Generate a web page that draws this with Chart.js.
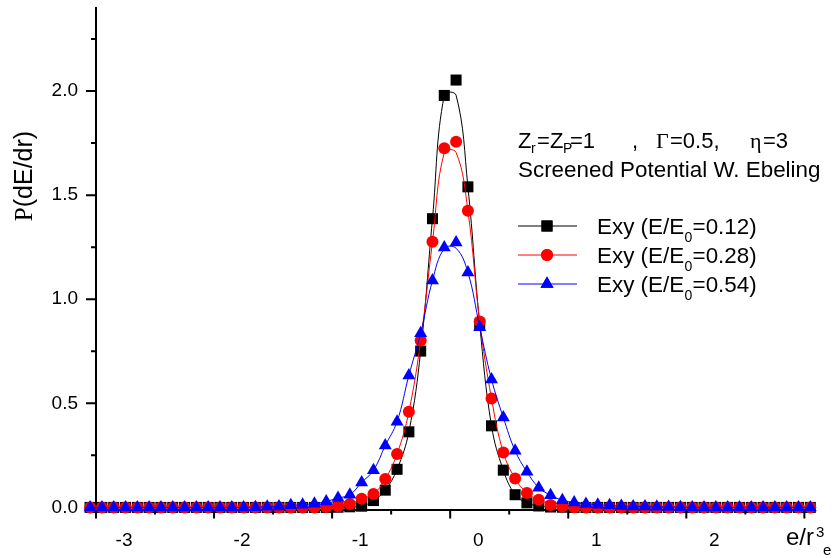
<!DOCTYPE html>
<html><head><meta charset="utf-8">
<script src="https://cdn.jsdelivr.net/npm/chart.js@4"></script>
<style>html,body{margin:0;padding:0;background:#fff}canvas{display:block}</style>
</head><body>
<canvas id="c" width="835" height="558"></canvas>
<script>
// ---- data ----
const xValues = [-3.05,-2.95,-2.85,-2.75,-2.65,-2.55,-2.45,-2.35,-2.25,-2.15,-2.05,-1.95,-1.85,-1.75,-1.65,-1.55,-1.45,-1.35,-1.25,-1.15,-1.05,
  -0.95,-0.85,-0.75,-0.65,-0.55,-0.45,-0.35,-0.25,-0.15,-0.05,
  0.05,0.15,0.25,0.35,0.45,0.55,0.65,0.75,0.85,0.95,
  1.05,1.15,1.25,1.35,1.45,1.55,1.65,1.75,1.85,1.95,2.05,2.15,2.25,2.35,2.45,2.55,2.65,2.75,2.85,2.95,3.05];

const blackPoints = [0,0,0,0,0,0,0,0,0,0,0,0,0,0,0,0,0,0,0,0,0,
  0.001,0.003,0.006,0.033,0.083,0.183,0.363,0.751,1.387,1.979,
  2.053,1.540,0.880,0.392,0.179,0.061,0.022,0.007,0.002,0.001,
  0,0,0,0,0,0,0,0,0,0,0,0,0,0,0,0,0,0,0,0,0];
const redPoints = [0,0,0,0,0,0,0,0,0,0,0,0,0,0,0,0,0,0,0,0,0.002,
  0.006,0.016,0.042,0.064,0.137,0.257,0.459,0.802,1.276,1.725,
  1.756,1.425,0.893,0.523,0.264,0.139,0.069,0.037,0.012,0.004,
  0.001,0,0,0,0,0,0,0,0,0,0,0,0,0,0,0,0,0,0,0,0];
const bluePoints = [0,0,0,0,0,0,0,0,0,0,0,0,0,0,0.001,0.003,0.005,0.010,0.013,0.018,0.029,
  0.045,0.061,0.120,0.178,0.297,0.412,0.634,0.837,1.090,1.249,
  1.273,1.129,0.866,0.615,0.432,0.272,0.171,0.095,0.059,0.035,
  0.024,0.017,0.013,0.010,0.007,0.005,0.004,0.003,0.002,0.001,0,0,0,0,0,0,0,0,0,0,0];

// smooth curves drawn through the points (peak region)
const blackCurve = [0,0,0,0,0,0,0,0,0,0,0,0,0,0,0,0,0,0,0,0,0,
  0.001,0.003,0.006,0.033,0.083,0.183,0.363,0.751,1.387,1.980,
  1.980,1.540,0.880,0.392,0.179,0.061,0.022,0.007,0.002,0.001,
  0,0,0,0,0,0,0,0,0,0,0,0,0,0,0,0,0,0,0,0,0];
const redCurve = [0,0,0,0,0,0,0,0,0,0,0,0,0,0,0,0,0,0,0,0,0.002,
  0.006,0.016,0.042,0.064,0.137,0.257,0.459,0.802,1.276,1.705,
  1.705,1.425,0.893,0.523,0.264,0.139,0.069,0.037,0.012,0.004,
  0.001,0,0,0,0,0,0,0,0,0,0,0,0,0,0,0,0,0,0,0,0];
const blueCurve = [0,0,0,0,0,0,0,0,0,0,0,0,0,0,0.001,0.003,0.005,0.010,0.013,0.018,0.029,
  0.045,0.061,0.120,0.178,0.297,0.412,0.634,0.837,1.090,1.243,
  1.245,1.129,0.866,0.615,0.432,0.272,0.171,0.095,0.059,0.035,
  0.024,0.017,0.013,0.010,0.007,0.005,0.004,0.003,0.002,0.001,0,0,0,0,0,0,0,0,0,0,0];

const seriesNames = ['0.12', '0.28', '0.54'];
const xTickLabels = [-3, -2, -1, 0, 1, 2];
const xMajorTicks = [-3, -2, -1, 0, 1, 2, 3];
const xMinorTicks = [-2.5, -1.5, -0.5, 0.5, 1.5, 2.5];
const yTickLabels = [0, 0.5, 1.0, 1.5, 2.0];
const yMinorTicks = [0.25, 0.75, 1.25, 1.75, 2.25];

const SANS = '"Liberation Sans", Arial, Helvetica, sans-serif';
const SERIF = '"Liberation Serif", "Times New Roman", serif';
const COLORS = ['#000000', '#ff0000', '#0000ff'];
const STYLES = ['rect', 'circle', 'triangle'];
const RADII = [7.8, 6, 7.5];

function pts(ys) { return xValues.map((x, i) => ({x: x, y: ys[i]})); }

function lineDs(ys, c, order) {
  return {data: pts(ys), showLine: true, borderColor: c, borderWidth: 1, pointRadius: 0,
    tension: 0.4, fill: false, clip: false, order: order};
}
function pointDs(ys, i, order) {
  return {data: pts(ys), showLine: false, backgroundColor: COLORS[i], borderColor: COLORS[i], borderWidth: 0,
    pointStyle: STYLES[i], pointRadius: RADII[i], clip: false, order: order};
}

const tickPlugin = {
  id: 'ticks',
  beforeDatasetsDraw(chart) {
    const ctx = chart.ctx, xs = chart.scales.x, ys = chart.scales.y, a = chart.chartArea;
    ctx.save();
    ctx.strokeStyle = '#000'; ctx.lineWidth = 2;
    ctx.beginPath();
    xMajorTicks.forEach(v => { const p = xs.getPixelForValue(v); ctx.moveTo(p, a.bottom); ctx.lineTo(p, a.bottom + 9); });
    xMinorTicks.forEach(v => { const p = xs.getPixelForValue(v); ctx.moveTo(p, a.bottom); ctx.lineTo(p, a.bottom + 5); });
    yTickLabels.forEach(v => { const p = ys.getPixelForValue(v); ctx.moveTo(a.left, p); ctx.lineTo(a.left - 10, p); });
    yMinorTicks.forEach(v => { const p = ys.getPixelForValue(v); ctx.moveTo(a.left, p); ctx.lineTo(a.left - 5, p); });
    ctx.stroke();
    ctx.restore();
  }
};

function t(ctx, s, x, y, size, fam) {
  ctx.font = size + 'px ' + (fam || SANS);
  ctx.fillText(s, x, y);
  return ctx.measureText(s).width;
}

const textPlugin = {
  id: 'texts',
  afterDraw(chart) {
    const ctx = chart.ctx;
    ctx.save();
    ctx.fillStyle = '#000';
    ctx.textAlign = 'left';
    ctx.textBaseline = 'alphabetic';
    // annotation line 1
    t(ctx, 'Z', 518, 148, 22);
    t(ctx, 'r', 531, 153, 14);
    t(ctx, '=', 537, 148, 22);
    t(ctx, 'Z', 550, 148, 22);
    t(ctx, 'P', 563, 153, 14);
    t(ctx, '=1', 570, 148, 22);
    t(ctx, ',', 632, 148, 22);
    t(ctx, '\u0393', 656, 148, 22, SERIF);
    t(ctx, '=0.5,', 670, 148, 22);
    t(ctx, '\u03B7', 750, 148, 22, SERIF);
    t(ctx, '=3', 763, 148, 22);
    // annotation line 2
    t(ctx, 'Screened Potential W. Ebeling', 518, 177, 22.4);

    // legend
    const rows = [226, 255, 284];
    rows.forEach((cy, i) => {
      ctx.strokeStyle = COLORS[i]; ctx.lineWidth = 1;
      ctx.beginPath(); ctx.moveTo(518, cy); ctx.lineTo(577, cy); ctx.stroke();
      ctx.fillStyle = COLORS[i];
      Chart.helpers.drawPoint(ctx, {pointStyle: STYLES[i], radius: RADII[i], borderWidth: 0, rotation: 0}, 547, cy);
      ctx.fill();
      ctx.fillStyle = '#000';
      const bl = cy + 7.5;
      const w = t(ctx, 'Exy (E/E', 597, bl, 22.4);
      const sx = 597 + w + 0.5;
      t(ctx, '0', sx, bl + 8, 14);
      t(ctx, '=' + seriesNames[i] + ')', sx + 8, bl, 22.4);
    });

    // x axis title
    t(ctx, 'e/r', 786, 545, 24);
    t(ctx, '3', 816, 537, 15);
    t(ctx, 'e', 823, 555, 15);

    // y axis title (rotated)
    ctx.translate(25, 176);
    ctx.rotate(-Math.PI / 2);
    ctx.font = '25px ' + SERIF;
    const wp = ctx.measureText('P').width;
    ctx.font = '25px ' + SANS;
    const wr = ctx.measureText('(dE/dr)').width;
    const x0 = -(wp + wr) / 2;
    ctx.textBaseline = 'middle';
    t(ctx, 'P', x0, 0, 25, SERIF);
    t(ctx, '(dE/dr)', x0 + wp, 0, 25);
    ctx.restore();
  }
};

new Chart(document.getElementById('c'), {
  type: 'scatter',
  data: {
    datasets: [
      lineDs(blackCurve, COLORS[0], 6),
      pointDs(blackPoints, 0, 5),
      lineDs(redCurve, COLORS[1], 4),
      pointDs(redPoints, 1, 3),
      lineDs(blueCurve, COLORS[2], 2),
      pointDs(bluePoints, 2, 1)
    ]
  },
  options: {
    responsive: false,
    animation: false,
    devicePixelRatio: 1,
    layout: {padding: {top: 7, right: 20, left: 0, bottom: 0}},
    plugins: {legend: {display: false}, tooltip: {enabled: false}},
    scales: {
      x: {
        type: 'linear', min: -3, max: 3.09,
        afterBuildTicks: s => { s.ticks = xTickLabels.map(v => ({value: v})); },
        afterFit: s => { s.height = 48.5; s.paddingLeft = 0; s.paddingRight = 0; },
        grid: {display: false, drawTicks: false},
        border: {display: true, color: '#000', width: 2},
        ticks: {labelOffset: 28, padding: 20, color: '#000', autoSkip: false, maxRotation: 0,
          font: {family: SANS, size: 19}, callback: v => String(v)}
      },
      y: {
        min: -0.01, max: 2.4,
        afterBuildTicks: s => { s.ticks = yTickLabels.map(v => ({value: v})); },
        afterFit: s => { s.width = 96; s.paddingTop = 0; s.paddingBottom = 0; },
        grid: {display: false, drawTicks: false},
        border: {display: true, color: '#000', width: 2},
        ticks: {padding: 18, color: '#000', autoSkip: false,
          font: {family: SANS, size: 19}, callback: v => Number(v).toFixed(1)}
      }
    }
  },
  plugins: [tickPlugin, textPlugin]
});
</script>
</body></html>
